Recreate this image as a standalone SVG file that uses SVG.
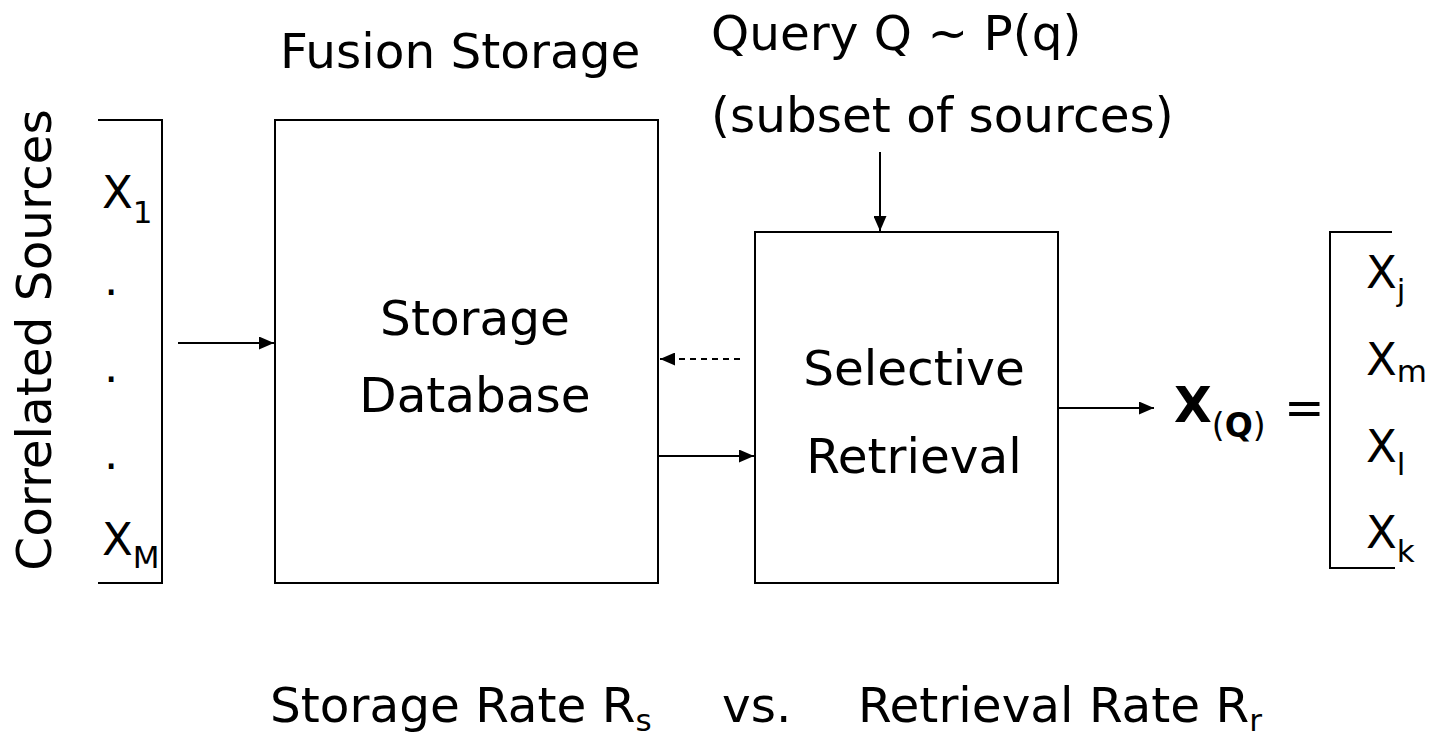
<svg xmlns="http://www.w3.org/2000/svg" width="1430" height="739" viewBox="0 0 1430 739">
<style>
text{font-family:"DejaVu Sans",Verdana,sans-serif;fill:#000}
.t{font-size:48.5px}
.x{font-size:45px}
.s{font-size:31px}
.ln{stroke:#000;stroke-width:2;fill:none}
.box{stroke:#000;stroke-width:2;fill:#fff}
</style>
<defs>
<marker id="ah" markerWidth="15" markerHeight="13" refX="15" refY="6.5" orient="auto" markerUnits="userSpaceOnUse">
<path d="M0,0 L15,6.5 L0,13 Z" fill="#000"/>
</marker>
</defs>
<rect width="1430" height="739" fill="#fff"/>
<g id="sources">
<path class="ln" d="M98,120 H162 V583 H98"/>
<text class="t" transform="translate(51,340) rotate(-90)" text-anchor="middle">Correlated Sources</text>
<text class="x" x="102" y="208">X<tspan class="s" dy="15">1</tspan></text>
<text class="x" x="104" y="295">.</text>
<text class="x" x="104" y="382">.</text>
<text class="x" x="104" y="469">.</text>
<text class="x" x="102" y="555">X<tspan class="s" dy="13">M</tspan></text>
</g>
<g id="storage">
<rect class="box" x="275" y="120" width="383" height="463"/>
<text class="t" x="280" y="68">Fusion Storage</text>
<text class="t" x="475" y="335" text-anchor="middle">Storage</text>
<text class="t" x="475" y="412" text-anchor="middle">Database</text>
</g>
<g id="query">
<text class="t" x="711" y="50">Query Q ~ P(q)</text>
<text class="t" x="711" y="132">(subset of sources)</text>
</g>
<g id="retrieval">
<rect class="box" x="755" y="232" width="303" height="351"/>
<text class="t" x="914" y="385" text-anchor="middle">Selective</text>
<text class="t" x="914" y="473" text-anchor="middle">Retrieval</text>
</g>
<g id="output">
<text x="1174" y="422" font-size="49" font-weight="bold">X<tspan font-size="33" dy="15" font-weight="normal">(<tspan font-weight="bold">Q</tspan>)</tspan></text>
<text class="t" x="1284" y="424">=</text>
<path class="ln" d="M1392,232 H1330 V568 H1395"/>
<text class="x" x="1366" y="288">X<tspan class="s" dy="13">j</tspan></text>
<text class="x" x="1366" y="375">X<tspan class="s" dy="7">m</tspan></text>
<text class="x" x="1366" y="462">X<tspan class="s" dy="13">l</tspan></text>
<text class="x" x="1366" y="548">X<tspan class="s" dy="14">k</tspan></text>
</g>
<g id="rates">
<text class="t" x="270" y="722">Storage Rate R<tspan class="s" dy="9">s</tspan></text>
<text class="t" x="722" y="722">vs.</text>
<text class="t" x="858" y="722">Retrieval Rate R<tspan class="s" dy="9">r</tspan></text>
</g>
<g id="connectors">
<line class="ln" x1="178" y1="343" x2="274" y2="343" marker-end="url(#ah)"/>
<line class="ln" x1="740" y1="359" x2="660" y2="359" stroke-dasharray="6,5" marker-end="url(#ah)"/>
<line class="ln" x1="658" y1="456" x2="754" y2="456" marker-end="url(#ah)"/>
<line class="ln" x1="880" y1="152" x2="880" y2="231" marker-end="url(#ah)"/>
<line class="ln" x1="1058" y1="408" x2="1154" y2="408" marker-end="url(#ah)"/>
</g>
</svg>
